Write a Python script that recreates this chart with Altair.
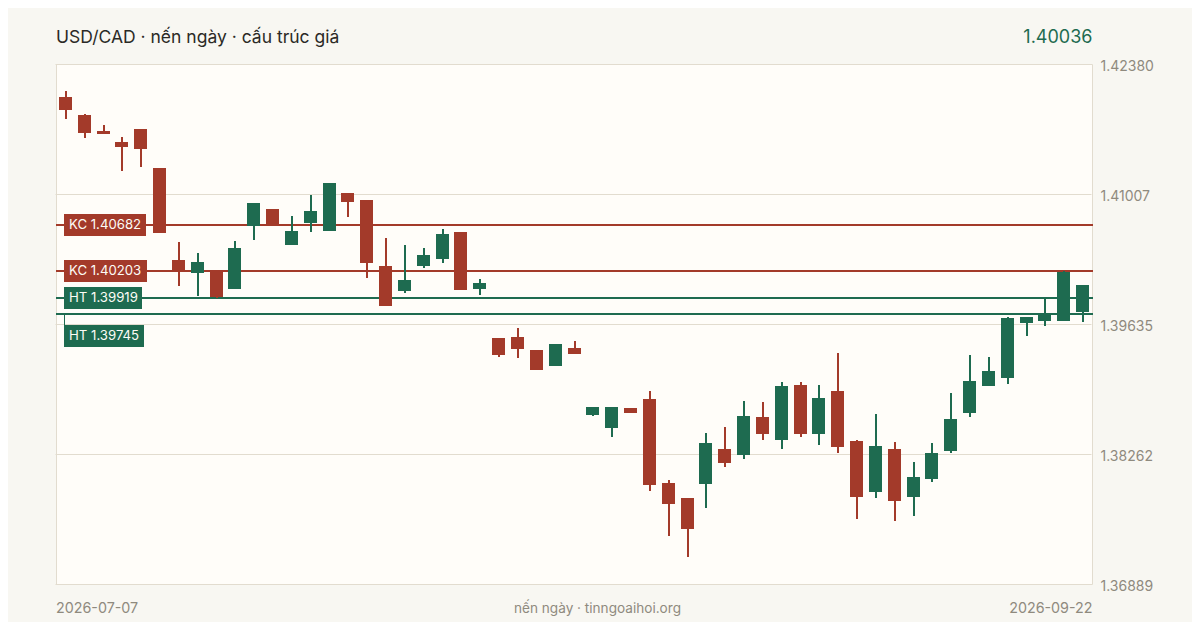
import altair as alt
import pandas as pd

title_text = "USD/CAD · nến ngày · cấu trúc giá"
last_price = "1.40036"
footer_left = "2026-07-07"
footer_mid = "nến ngày · tinngoaihoi.org"
footer_right = "2026-09-22"

y_ticks = [1.42380, 1.41007, 1.39635, 1.38262, 1.36889]

highs = [1.42105,1.41863,1.41746,1.41620,1.41704,1.41292,1.40511,1.40395,1.40205,1.40522,1.40923,
         1.40859,1.40786,1.41007,1.41134,1.41028,1.40954,1.40553,1.40479,1.40448,1.40648,1.40617,
         1.40120,1.39497,1.39603,1.39370,1.39434,1.39466,1.38769,1.38769,1.38758,1.38938,1.37998,
         1.37808,1.38494,1.38557,1.38832,1.38821,1.39033,1.39033,1.39001,1.39339,1.38420,1.38695,
         1.38399,1.38188,1.38388,1.38916,1.39318,1.39297,1.39719,1.39719,1.39920,1.40205,1.40057]
lows = [1.41810,1.41609,1.41651,1.41261,1.41303,1.40606,1.40046,1.39941,1.39920,1.40015,1.40532,
        1.40680,1.40479,1.40617,1.40627,1.40775,1.40131,1.39835,1.39972,1.40236,1.40289,1.40004,
        1.39951,1.39297,1.39286,1.39159,1.39202,1.39328,1.38674,1.38452,1.38705,1.37882,1.37406,
        1.37185,1.37702,1.38135,1.38220,1.38420,1.38325,1.38452,1.38367,1.38283,1.37586,1.37808,
        1.37565,1.37618,1.37977,1.38283,1.38663,1.38990,1.39011,1.39518,1.39624,1.39677,1.39666]
opens = [1.42042,1.41852,1.41683,1.41567,1.41704,1.41292,1.40321,1.40184,1.40205,1.40015,1.40680,
         1.40859,1.40479,1.40712,1.40627,1.41028,1.40954,1.40258,1.39994,1.40258,1.40331,1.40617,
         1.40015,1.39497,1.39508,1.39370,1.39202,1.39392,1.38684,1.38547,1.38758,1.38853,1.37966,
         1.37808,1.37956,1.38325,1.38262,1.38663,1.38420,1.39001,1.38483,1.38938,1.38410,1.37871,
         1.38325,1.37818,1.38008,1.38304,1.38705,1.38990,1.39075,1.39656,1.39677,1.39677,1.39772]
closes = [1.41905,1.41662,1.41651,1.41514,1.41493,1.40606,1.40194,1.40300,1.39930,1.40448,1.40923,
          1.40680,1.40627,1.40838,1.41134,1.40933,1.40289,1.39835,1.40110,1.40374,1.40595,1.40004,
          1.40078,1.39318,1.39381,1.39159,1.39434,1.39328,1.38769,1.38769,1.38705,1.37945,1.37744,
          1.37480,1.38388,1.38177,1.38674,1.38483,1.38990,1.38483,1.38864,1.38346,1.37818,1.38357,
          1.37776,1.38029,1.38283,1.38642,1.39043,1.39149,1.39708,1.39719,1.39761,1.40194,1.40057]

level_names = ["KC 1.40682", "KC 1.40203", "HT 1.39919", "HT 1.39745"]
level_prices = [1.40682, 1.40203, 1.39919, 1.39745]
level_kinds = ["KC", "KC", "HT", "HT"]

RED = "#a33a2a"
GREEN = "#1e6b50"
PAGE = "#f8f7f2"
PLOT = "#fffdf9"
FRAME = "#e2dccf"
MUTED = "#8f8a7e"
FONT = "Inter"

W, H = 1036, 520
x_scale = alt.Scale(domain=[-0.5, 54.5], range=[0.5, W + 0.5], nice=False, zero=False, padding=0, round=True)
y_scale = alt.Scale(domain=[y_ticks[-1], y_ticks[0]], range=[H + 1, 1], nice=False, zero=False, round=True)
lvl_scale = alt.Scale(domain=[y_ticks[-1], y_ticks[0]], range=[H + 0.5, 0.5], nice=False, zero=False, round=True)

candles = pd.DataFrame({"i": range(len(opens)), "o": opens, "h": highs, "l": lows, "c": closes})
candles["dir"] = ["up" if c >= o else "down" for o, c in zip(opens, closes)]
color = alt.Color("dir:N", scale=alt.Scale(domain=["up", "down"], range=[GREEN, RED]), legend=None)
X = alt.X("i:Q", scale=x_scale, axis=None)

base = alt.Chart(candles)
grid = alt.Chart(pd.DataFrame({"p": y_ticks})).mark_rule(opacity=0).encode(
    y=alt.Y("p:Q", scale=y_scale, axis=alt.Axis(
        orient="right", values=y_ticks, format=".5f", grid=True, gridColor=FRAME, gridWidth=1,
        domain=False, ticks=False, labelPadding=9, labelOffset=2, labelColor=MUTED, labelFont=FONT,
        labelFontSize=14, title=None, labelBaseline="middle", translate=-0.5)))

levels = pd.DataFrame({"name": level_names, "p": level_prices, "kind": level_kinds,
                       "w": [82, 83, 78, 80], "shift": [0, 0, 0, 22]})
lvl_color = alt.Color("kind:N", scale=alt.Scale(domain=["HT", "KC"], range=[GREEN, RED]), legend=None)
Yp = alt.Y("p:Q", scale=lvl_scale, axis=None)

lines = alt.Chart(levels).mark_rule(strokeWidth=2).encode(y=Yp, color=lvl_color, x=alt.value(0), x2=alt.value(W + 1))
wicks = base.mark_rule(strokeWidth=2).encode(x=X, y=alt.Y("h:Q", scale=y_scale, axis=None), y2="l:Q", color=color)
bodies = base.mark_bar(size=13, xOffset=-0.5).encode(x=X, y=alt.Y("o:Q", scale=y_scale, axis=None), y2="c:Q", color=color)

boxes = []
for row in levels.itertuples():
    one = alt.Chart(pd.DataFrame([{"p": row.p, "kind": row.kind}]))
    boxes.append(one.mark_rect(height=22, width=row.w).encode(
        y=Yp, x=alt.value(8 + row.w / 2), yOffset=alt.value(row.shift), color=lvl_color))
    boxes.append(one.mark_text(text=row.name, font=FONT, fontSize=13.2, color="#fdfcf6", align="left",
                               baseline="middle", dy=row.shift).encode(y=Yp, x=alt.value(13)))

leader = alt.Chart(levels[levels["shift"] > 0]).mark_rule(strokeWidth=1, color=GREEN).encode(
    x=alt.value(8.5), y=Yp, y2=alt.value(262))

def txt(s, x, y, size, col, align="left"):
    return alt.Chart(pd.DataFrame({"t": [s]})).mark_text(
        font=FONT, fontSize=size, color=col, align=align, baseline="middle", clip=False
    ).encode(text="t:N", x=alt.value(x), y=alt.value(y))

texts = [
    txt(title_text, 0, -26, 17.5, "#2b2a26"),
    txt(last_price, W + 0.5, -26, 18, GREEN, "right"),
    txt(footer_left, 0, 545, 14.3, MUTED),
    txt(footer_mid, 541.5, 545, 13.6, MUTED, "center"),
    txt(footer_right, W + 0.5, 545, 14.3, MUTED, "right"),
]

chart = alt.layer(grid, lines, leader, wicks, bodies, *boxes, *texts).resolve_scale(
    color="independent", y="independent"
).properties(
    width=W, height=H,
    padding={"left": 48, "top": 56, "right": 100, "bottom": 38},
    autosize=alt.AutoSizeParams(type="none"),
    background=PAGE,
).configure_view(fill=PLOT, stroke=FRAME, strokeWidth=1)

chart.save("out.html", embed_options={"renderer": "svg", "actions": False})
